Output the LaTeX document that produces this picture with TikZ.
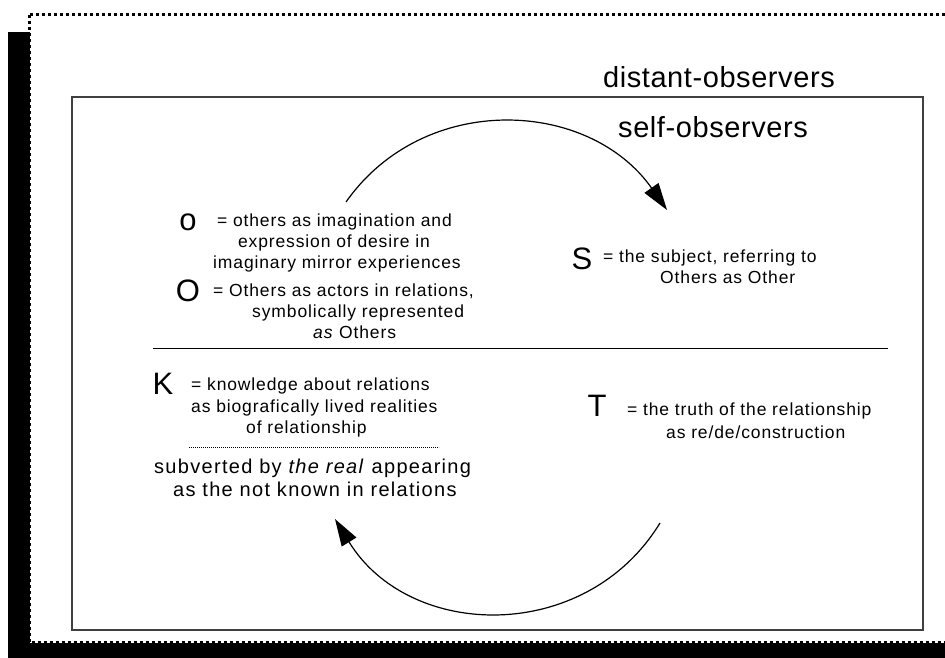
\documentclass[tikz,border=0pt]{standalone}
\usepackage{fontspec}
\setmainfont{Liberation Sans}
\newfontfamily\spaced[LetterSpace=5]{Liberation Sans}
\newfontfamily\midspaced[LetterSpace=6.5]{Liberation Sans}
\newfontfamily\headfont[LetterSpace=2]{Liberation Sans}
\usetikzlibrary{arrows.meta}
\begin{document}
\begin{tikzpicture}[x=1pt,y=-1pt,
  txt/.style={inner sep=0pt, anchor=base west, font=\spaced\fontsize{17.5}{21.3}\selectfont},
  midtxt/.style={inner sep=0pt, anchor=base west, font=\midspaced\fontsize{20}{23}\selectfont},
  headtxt/.style={inner sep=0pt, font=\headfont\fontsize{29}{33}\selectfont},
  bigletter/.style={inner sep=0pt, font=\fontsize{31}{31}\selectfont},
  arcarrow/.style={line width=1.2pt, -{Triangle[length=27pt,width=17pt]}},
  frame/.style={draw=black!75, line width=1.5pt}]
\useasboundingbox (0,0) rectangle (945,657);
\clip (0,0) rectangle (945,657);
% shadow and dotted outer frame
\fill[black] (8,32) rectangle (980,690);
\filldraw[fill=white, draw=black, line width=3pt, dash pattern=on 3pt off 3pt] (29.5,14.5) rectangle (990,642.5);
% inner box
\draw[frame] (72,97) rectangle (923,630);
% separators
\draw[line width=1.2pt] (153,348.5) -- (888,348.5);
\draw[line width=0.8pt, dash pattern=on 0.8pt off 1.2pt] (189,447) -- (439,447);
% headings
\node[headtxt, anchor=base east] (dist) at (835,87) {distant-observers};
\node[headtxt, anchor=base west] (self) at (618,137) {self-observers};
% upper block
\node[bigletter] (o) at (188,222) {o};
\node[txt, anchor=base east] (o1) at (452,226.5) {= others as imagination and};
\node[txt, anchor=base east] (o2) at (430,247.5) {expression of desire in};
\node[txt] (o3) at (213,268) {imaginary mirror experiences};
\node[bigletter] (O) at (188,291) {O};
\node[txt] (O1) at (213,296.5) {= Others as actors in relations,};
\node[txt] (O2) at (252,317.5) {symbolically represented};
\node[txt] (O3) at (313,338.5) {\textit{as} Others};
\node[bigletter] (S) at (582,259) {S};
\node[txt] (S1) at (603,262.5) {= the subject, referring to};
\node[txt] (S2) at (660,283.5) {Others as Other};
% lower block
\node[bigletter] (K) at (163,384) {K};
\node[txt] (K1) at (191,390.5) {= knowledge about relations};
\node[txt] (K2) at (191,412.5) {as biografically lived realities};
\node[txt] (K3) at (246,433.5) {of relationship};
\node[bigletter] (T) at (597,406) {T};
\node[txt] (T1) at (627,415.5) {= the truth of the relationship};
\node[txt] (T2) at (666,438.5) {as re/de/construction};
\node[midtxt] (sub1) at (154,473.5) {subverted by \textit{the real} appearing};
\node[midtxt] (sub2) at (173,496.5) {as the not known in relations};
% arcs
\coordinate (u1) at (346,202);
\coordinate (u2) at (667,210);
\coordinate (l1) at (660,523);
\coordinate (l2) at (335,519);
\draw[arcarrow] (u1) .. controls (424,91) and (589,99) .. (u2);
\draw[arcarrow] (l1) .. controls (585.7,644.4) and (409.3,640.4) .. (l2);
\end{tikzpicture}
\end{document}
